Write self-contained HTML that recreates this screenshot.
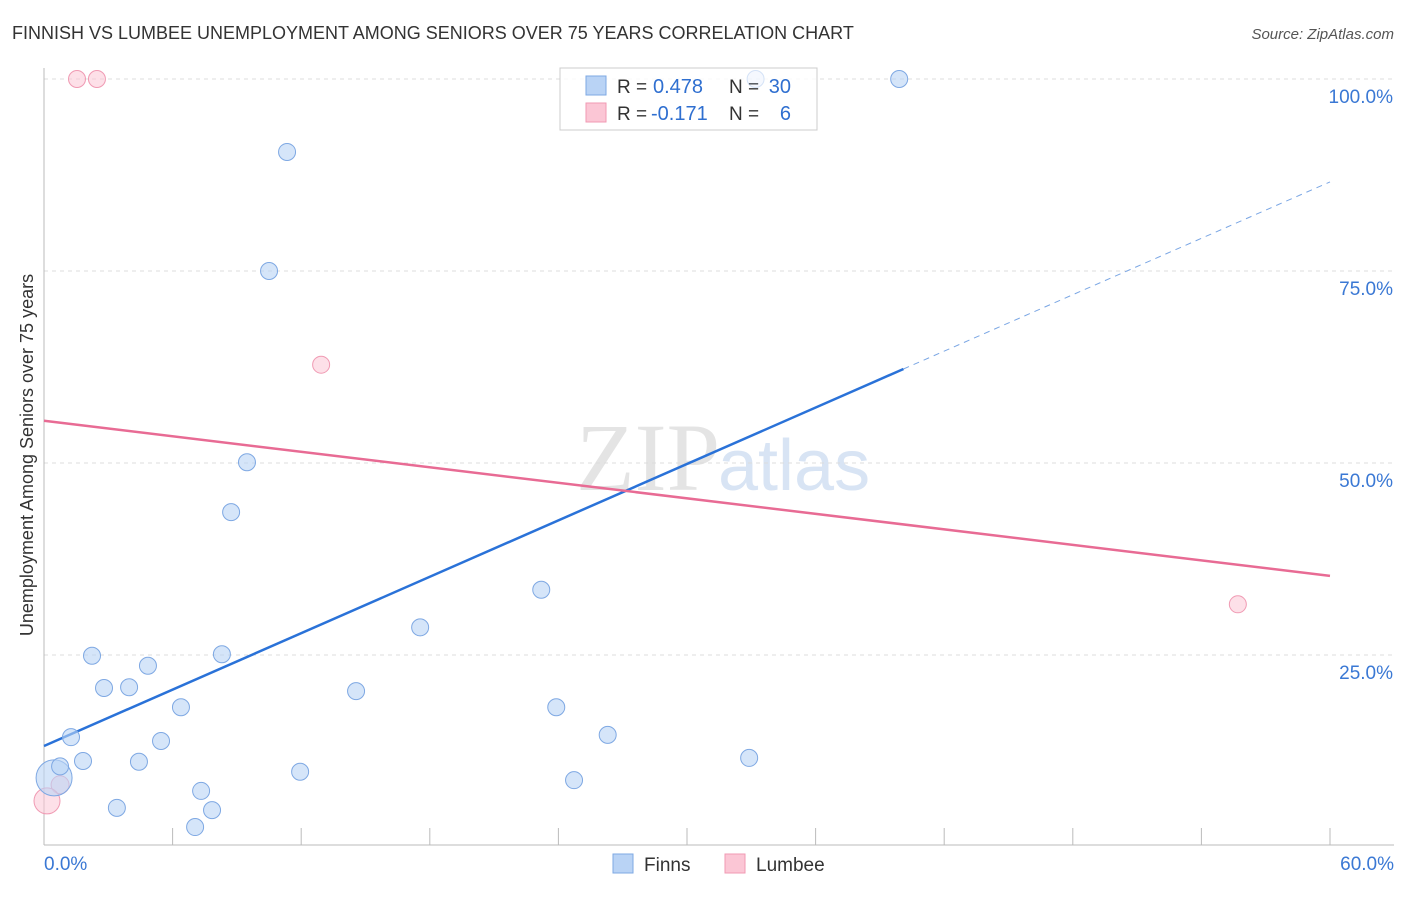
<!DOCTYPE html>
<html><head><meta charset="utf-8"><style>
body{margin:0;background:#fff;font-family:"Liberation Sans",sans-serif}
</style></head><body>
<svg width="1406" height="892" xmlns="http://www.w3.org/2000/svg" id="svg">
<text x="12" y="39" font-size="18" fill="#333">FINNISH VS LUMBEE UNEMPLOYMENT AMONG SENIORS OVER 75 YEARS CORRELATION CHART</text>
<text x="1394" y="39" font-size="15" fill="#555" font-style="italic" text-anchor="end">Source: ZipAtlas.com</text>
<text x="720" y="490" font-size="96" fill="#e4e4e4" text-anchor="end" font-family="Liberation Serif">ZIP</text>
<text x="718" y="490" font-size="72" fill="#d8e4f4">atlas</text>
<text transform="translate(33,455) rotate(-90)" font-size="18" fill="#333" text-anchor="middle">Unemployment Among Seniors over 75 years</text>
<g id="grid"></g><g id="lines"></g>
<g>
<rect x="560" y="68" width="257" height="62" fill="rgba(255,255,255,0.85)" stroke="#ccc"/>
<rect x="586" y="76" width="20" height="19" fill="#b9d3f5" stroke="#7ea8e3"/>
<rect x="586" y="103" width="20" height="19" fill="#fbc6d5" stroke="#f09ab3"/>
<text x="617" y="93" font-size="19" fill="#333">R =</text>
<text x="653" y="93" font-size="20" fill="#2f6fd0">0.478</text>
<text x="729" y="93" font-size="19" fill="#333">N =</text>
<text x="791" y="93" font-size="20" fill="#2f6fd0" text-anchor="end">30</text>
<text x="617" y="120" font-size="19" fill="#333">R =</text>
<text x="651" y="120" font-size="20" fill="#2f6fd0">-0.171</text>
<text x="729" y="120" font-size="19" fill="#333">N =</text>
<text x="791" y="120" font-size="20" fill="#2f6fd0" text-anchor="end">6</text>
</g>
<g id="pts"></g>
<g>
<rect x="613" y="854" width="20" height="19" fill="#b9d3f5" stroke="#7ea8e3"/>
<text x="644" y="871" font-size="19" fill="#333">Finns</text>
<rect x="725" y="854" width="20" height="19" fill="#fbc6d5" stroke="#f09ab3"/>
<text x="756" y="871" font-size="19" fill="#333">Lumbee</text>
</g>
</svg>
<script>
const yTicks=[25,50,75,100];
const yTickLabels=["25.0%","50.0%","75.0%","100.0%"];
const xTickLabels=["0.0%","60.0%"];
const finnsX=[0.47,0.75,1.26,1.82,2.24,2.8,3.4,3.97,4.43,4.85,5.46,6.39,7.05,7.33,7.84,8.3,8.73,9.47,10.5,11.34,11.95,14.56,17.55,23.2,23.9,24.73,26.3,32.9,33.2,39.9];
const finnsY=[9.0,10.5,14.3,11.2,24.9,20.7,5.1,20.8,11.1,23.6,13.8,18.2,2.6,7.3,4.8,25.1,43.6,50.1,75,90.5,9.8,20.3,28.6,33.5,18.2,8.7,14.6,11.6,100,100];
const lumbeeX=[1.54,2.47,12.93,55.7,0.75,0.14];
const lumbeeY=[100,100,62.8,31.6,8.1,6.0];
const finnsTrend=[13.15,86.6];
const lumbeeTrend=[55.5,35.3];
const finnsSolidEnd=40.1;
const NS="http://www.w3.org/2000/svg";
const X=v=>44+v/60*1286, Y=v=>847-v*7.68;
function mk(t,a,p){const e=document.createElementNS(NS,t);for(const k in a)e.setAttribute(k,a[k]);document.getElementById(p).appendChild(e);return e;}
yTicks.forEach((t,i)=>{
 const l=mk('line',{x1:44,x2:1394,y1:Y(t),y2:Y(t),stroke:'#ddd','stroke-dasharray':'4,4'},'grid');
 
 
 const tx=mk('text',{x:1393,y:Y(t)+24,'font-size':19,fill:'#3a78d4','text-anchor':'end'},'grid');
 tx.textContent=yTickLabels[i];
 
 
});
let ax=mk('line',{x1:44,x2:44,y1:68,y2:845,stroke:'#bbb'},'grid');


ax=mk('line',{x1:44,x2:1394,y1:845,y2:845,stroke:'#bbb'},'grid');


for(let i=0;i<=10;i++){const t=mk('line',{x1:X(i*6),x2:X(i*6),y1:828,y2:845,stroke:'#bbb'},'grid');
 
 }
[[0,'start',44],[60,'end',1394]].forEach((d,i)=>{const t=mk('text',{x:d[2],y:870,'font-size':19,fill:'#3a78d4','text-anchor':d[1]},'grid');t.textContent=xTickLabels[i];
 
 });
const fy=v=>finnsTrend[0]+(finnsTrend[1]-finnsTrend[0])*v/60;
let ln=mk('line',{x1:X(0),y1:Y(fy(0)),x2:X(finnsSolidEnd),y2:Y(fy(finnsSolidEnd)),stroke:'#2a72d8','stroke-width':2.5},'lines');


ln=mk('line',{x1:X(finnsSolidEnd),y1:Y(fy(finnsSolidEnd)),x2:X(60),y2:Y(fy(60)),stroke:'#7aa6e4','stroke-width':1,'stroke-dasharray':'6,5'},'lines');


ln=mk('line',{x1:X(0),y1:Y(lumbeeTrend[0]),x2:X(60),y2:Y(lumbeeTrend[1]),stroke:'#e86b94','stroke-width':2.5},'lines');


lumbeeX.forEach((v,i)=>{const c=mk('circle',{cx:X(v),cy:Y(lumbeeY[i]),r:i==5?13:(i==4?9:8.5),fill:'rgba(251,198,213,0.55)',stroke:'#f09ab3','stroke-width':1},'pts');
 
 });
finnsX.forEach((v,i)=>{const c=mk('circle',{cx:X(v),cy:Y(finnsY[i]),r:i==0?18:8.5,fill:'rgba(185,211,245,0.6)',stroke:'#7ea8e3','stroke-width':1},'pts');
 
 });
document.querySelectorAll('#pts circle').forEach(c=>{if(+c.getAttribute('cx')>740&&+c.getAttribute('cx')<770&&+c.getAttribute('cy')<90){c.setAttribute('fill','rgba(185,211,245,0.15)');c.setAttribute('stroke','rgba(126,168,227,0.3)');}});
</script>
</body></html>
